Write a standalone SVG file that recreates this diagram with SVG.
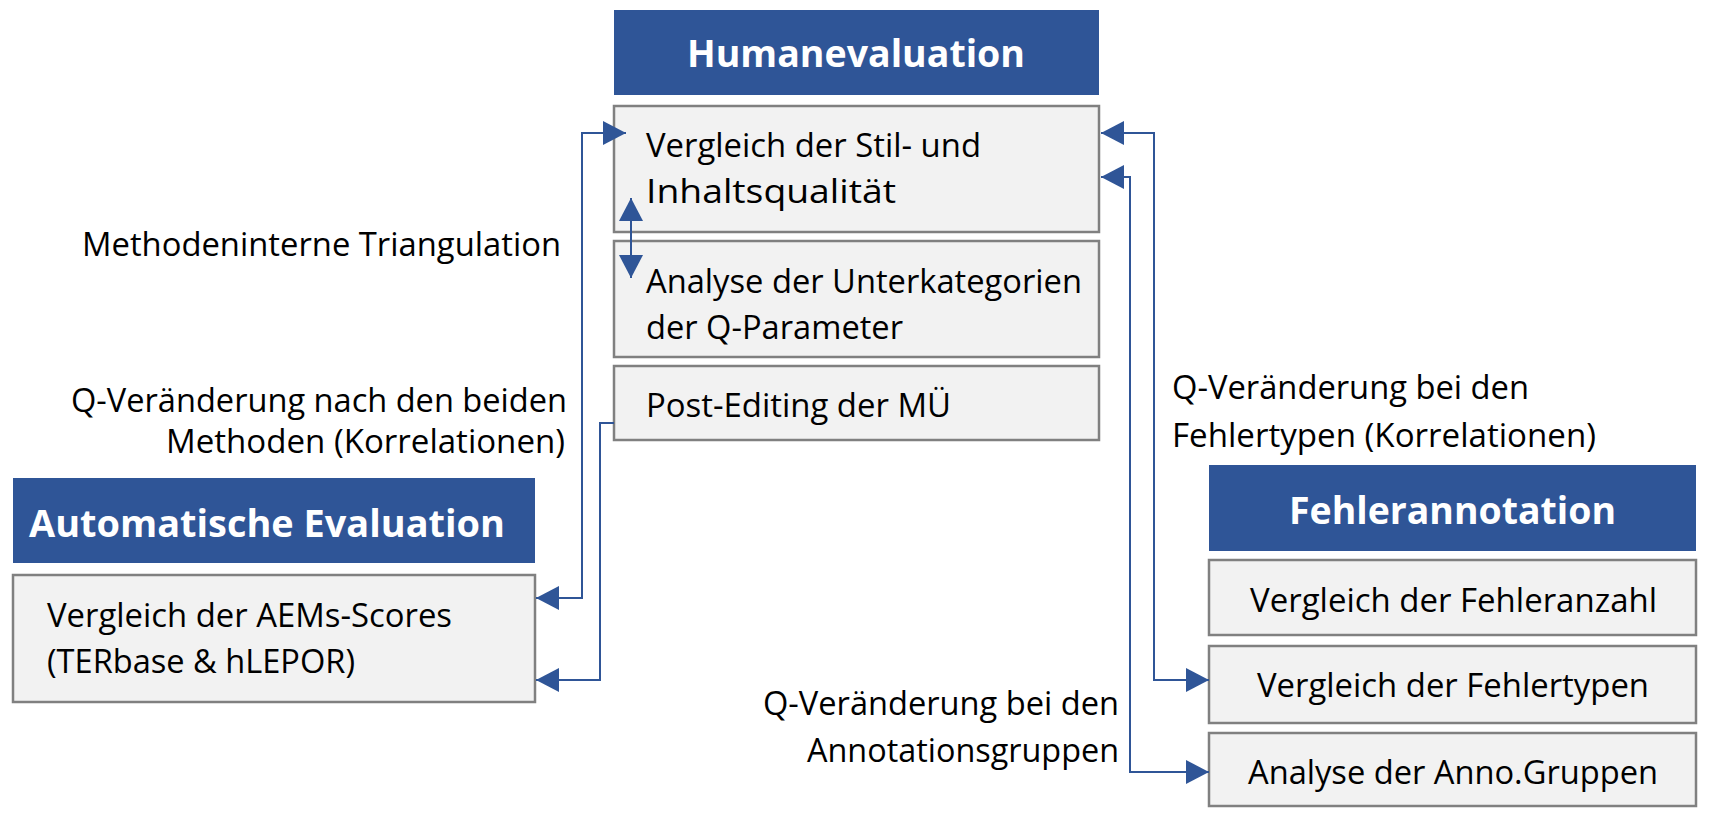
<svg xmlns="http://www.w3.org/2000/svg" width="1709" height="820" viewBox="0 0 1709 820">
<style>
.hdr{fill:#2F5597}
.box{fill:#F2F2F2;stroke:#808080;stroke-width:2.5}
.ht{font-family:"Open Sans","Liberation Sans",sans-serif;font-weight:bold;font-size:38px;fill:#FFFFFF}
.t{font-family:"Open Sans","Liberation Sans",sans-serif;font-size:33px;fill:#000000}
.c{fill:none;stroke:#2F5597;stroke-width:2}
</style>
<defs>
<marker id="ah" markerUnits="userSpaceOnUse" markerWidth="24" markerHeight="24" refX="23" refY="12" orient="auto-start-reverse" viewBox="0 0 24 24">
<path d="M0,0 L23,12 L0,24 Z" fill="#2F5597"/>
</marker>
</defs>
<rect width="1709" height="820" fill="#FFFFFF"/>

<g id="human-header">
<rect class="hdr" x="614" y="10" width="485" height="85"/>
<text class="ht" x="687" y="67" textLength="338" lengthAdjust="spacingAndGlyphs">Humanevaluation</text>
</g>
<g id="human-stil">
<rect class="box" x="614" y="106" width="485" height="126"/>
<text class="t" x="646" y="157" textLength="335" lengthAdjust="spacingAndGlyphs">Vergleich der Stil- und</text>
<text class="t" x="646" y="203" textLength="250" lengthAdjust="spacingAndGlyphs">Inhaltsqualität</text>
</g>
<g id="human-unterkat">
<rect class="box" x="614" y="241" width="485" height="116"/>
<text class="t" x="646" y="293" textLength="436" lengthAdjust="spacingAndGlyphs">Analyse der Unterkategorien</text>
<text class="t" x="646" y="339" textLength="257" lengthAdjust="spacingAndGlyphs">der Q-Parameter</text>
</g>
<g id="human-postedit">
<rect class="box" x="614" y="366" width="485" height="74"/>
<text class="t" x="646" y="417" textLength="305" lengthAdjust="spacingAndGlyphs">Post-Editing der MÜ</text>
</g>

<g id="auto-header">
<rect class="hdr" x="13" y="478" width="522" height="85"/>
<text class="ht" x="29" y="537" textLength="476" lengthAdjust="spacingAndGlyphs">Automatische Evaluation</text>
</g>
<g id="auto-aem">
<rect class="box" x="13" y="575" width="522" height="127"/>
<text class="t" x="47" y="627" textLength="405" lengthAdjust="spacingAndGlyphs">Vergleich der AEMs-Scores</text>
<text class="t" x="47" y="673" textLength="308" lengthAdjust="spacingAndGlyphs">(TERbase &amp; hLEPOR)</text>
</g>

<g id="fehler-header">
<rect class="hdr" x="1209" y="465" width="487" height="86"/>
<text class="ht" x="1289" y="524" textLength="327" lengthAdjust="spacingAndGlyphs">Fehlerannotation</text>
</g>
<g id="fehler-anzahl">
<rect class="box" x="1209" y="560" width="487" height="75"/>
<text class="t" x="1250" y="612" textLength="407" lengthAdjust="spacingAndGlyphs">Vergleich der Fehleranzahl</text>
</g>
<g id="fehler-typen">
<rect class="box" x="1209" y="646" width="487" height="77"/>
<text class="t" x="1257" y="697" textLength="392" lengthAdjust="spacingAndGlyphs">Vergleich der Fehlertypen</text>
</g>
<g id="fehler-anno">
<rect class="box" x="1209" y="733" width="487" height="73"/>
<text class="t" x="1248" y="784" textLength="410" lengthAdjust="spacingAndGlyphs">Analyse der Anno.Gruppen</text>
</g>

<g id="connectors">
<path class="c" d="M626,133 H582 V598 H536" marker-start="url(#ah)" marker-end="url(#ah)"/>
<path class="c" d="M614,423 H600 V680 H536" marker-end="url(#ah)"/>
<path class="c" d="M631,198 V278" marker-start="url(#ah)" marker-end="url(#ah)"/>
<path class="c" d="M1101,133 H1154 V680 H1209" marker-start="url(#ah)" marker-end="url(#ah)"/>
<path class="c" d="M1101,177 H1130 V772 H1209" marker-start="url(#ah)" marker-end="url(#ah)"/>
</g>

<g id="labels">
<text class="t" x="82" y="256" textLength="479" lengthAdjust="spacingAndGlyphs">Methodeninterne Triangulation</text>
<text class="t" x="71" y="412" textLength="496" lengthAdjust="spacingAndGlyphs">Q-Veränderung nach den beiden</text>
<text class="t" x="166" y="453" textLength="399" lengthAdjust="spacingAndGlyphs">Methoden (Korrelationen)</text>
<text class="t" x="1172" y="399" textLength="357" lengthAdjust="spacingAndGlyphs">Q-Veränderung bei den</text>
<text class="t" x="1172" y="447" textLength="424" lengthAdjust="spacingAndGlyphs">Fehlertypen (Korrelationen)</text>
<text class="t" x="763" y="715" textLength="356" lengthAdjust="spacingAndGlyphs">Q-Veränderung bei den</text>
<text class="t" x="807" y="762" textLength="312" lengthAdjust="spacingAndGlyphs">Annotationsgruppen</text>
</g>
</svg>
